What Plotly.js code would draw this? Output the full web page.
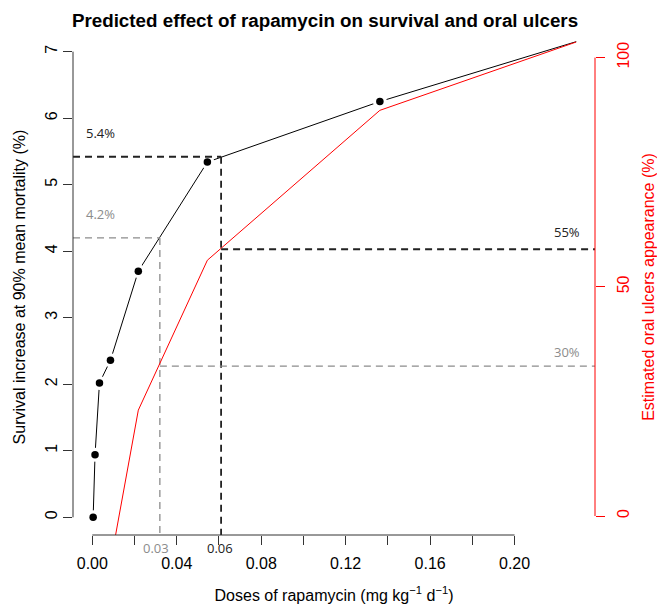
<!DOCTYPE html>
<html><head><meta charset="utf-8">
<script src="https://cdn.plot.ly/plotly-3.0.1.min.js"></script>
<style>html,body{margin:0;padding:0;background:#fff}</style>
</head><body><div id="chart" style="width:657px;height:606px"></div>
<script>
// ---- data ----
const doses = [0.0004, 0.0013, 0.0034, 0.0086, 0.0218, 0.0545, 0.1362, 0.2292];
const survivalIncrease = [0.0, 0.94, 2.02, 2.36, 3.70, 5.34, 6.25, 7.15];
const observedDoses = [0.0004, 0.0013, 0.0034, 0.0086, 0.0218, 0.0545, 0.1362];
const observedSurvival = [0.0, 0.94, 2.02, 2.36, 3.70, 5.34, 6.25];
const ulcerDoses = [0.0086, 0.0218, 0.0545, 0.1362, 0.2292];
const ulcerAppearance = [-10.3, 23.1, 55.8, 88.5, 103.4];
const refDoses = [0.032, 0.061];
const refSurvival = [4.2, 5.42];
const refUlcers = [32.7, 58.2];
const refSurvivalLabels = ['4.2%', '5.4%'];
const refUlcerLabels = ['30%', '55%'];
const refDoseLabels = ['0.03', '0.06'];
const xTickVals = [0, 0.04, 0.08, 0.12, 0.16, 0.20];
const xTickText = ['0.00', '0.04', '0.08', '0.12', '0.16', '0.20'];
const xMinorTickVals = [0.02, 0.06, 0.10, 0.14, 0.18];
const yTickVals = [0, 1, 2, 3, 4, 5, 6, 7];
const y2TickVals = [0, 50, 100];

// ---- styling / layout ----
const refColors = ['#8c8c8c', '#222222'];
const refWidths = [1.3, 1.8];
const xRange = [-0.00914, 0.2381];
const yRange = [-0.266, 7.19];
const y2Range = [-4.14, 104.06];
const sans = 'Liberation Sans, Arial, Helvetica, sans-serif';
const labFont = 'Open Sans, Noto Sans, sans-serif';

const traces = [
  {x: doses, y: survivalIncrease, mode: 'lines', line: {color: '#000', width: 1}, hoverinfo: 'skip', showlegend: false},
  {x: observedDoses, y: observedSurvival, mode: 'markers', marker: {color: '#fff', size: 14}, hoverinfo: 'skip', showlegend: false},
  {x: observedDoses, y: observedSurvival, mode: 'markers', marker: {color: '#000', size: 7.5}, showlegend: false},
  {x: ulcerDoses, y: ulcerAppearance, yaxis: 'y2', mode: 'lines', line: {color: '#ff0000', width: 1}, showlegend: false}
];
refDoses.forEach((d, i) => {
  const ln = {color: refColors[i], width: refWidths[i], dash: '7px,5px'};
  traces.push({x: [xRange[0], d], y: [refSurvival[i], refSurvival[i]], mode: 'lines', line: ln, hoverinfo: 'skip', showlegend: false});
  traces.push({x: [d, d], y: [refSurvival[i], yRange[0]], mode: 'lines', line: ln, hoverinfo: 'skip', showlegend: false});
  traces.push({x: [d, xRange[1]], y: [refUlcers[i], refUlcers[i]], yaxis: 'y2', mode: 'lines', line: ln, hoverinfo: 'skip', showlegend: false});
});

const annotations = [];
const ulcerShift = [14, 17];
const doseShift = [-3.5, -1.4];
refDoses.forEach((d, i) => {
  annotations.push({xref: 'x', yref: 'y', x: xRange[0], y: refSurvival[i], xanchor: 'left', yanchor: 'middle', xshift: 11, yshift: 24,
    text: refSurvivalLabels[i], showarrow: false, font: {family: labFont, size: 13, color: refColors[i]}});
  annotations.push({xref: 'x', yref: 'y2', x: xRange[1], y: refUlcers[i], xanchor: 'right', yanchor: 'middle', xshift: -13, yshift: ulcerShift[i],
    text: refUlcerLabels[i], showarrow: false, font: {family: labFont, size: 13, color: refColors[i]}});
  annotations.push({xref: 'x', yref: 'paper', x: d, y: 0, xanchor: 'center', yanchor: 'middle', xshift: doseShift[i], yshift: -13,
    text: refDoseLabels[i], showarrow: false, font: {family: labFont, size: 13, color: refColors[i]}});
});

const shapes = [
  {type: 'line', xref: 'paper', yref: 'y', x0: 0, x1: 0, y0: yTickVals[0], y1: yTickVals[yTickVals.length - 1], line: {color: '#333', width: 1}},
  {type: 'line', xref: 'x', yref: 'paper', x0: xTickVals[0], x1: xTickVals[xTickVals.length - 1], y0: 0, y1: 0, line: {color: '#333', width: 1}},
  {type: 'line', xref: 'paper', yref: 'y2', x0: 1, x1: 1, y0: y2TickVals[0], y1: y2TickVals[y2TickVals.length - 1], line: {color: '#ff0000', width: 1}}
];

const layout = {
  width: 657, height: 606,
  margin: {l: 73.3, r: 61.7, t: 39, b: 71, pad: 0},
  paper_bgcolor: '#fff', plot_bgcolor: '#fff',
  font: {family: sans, size: 16, color: '#000'},
  title: {text: 'Predicted effect of rapamycin on survival and oral ulcers', x: 325 / 657, xref: 'container', xanchor: 'center',
    y: 1 - 20 / 606, yref: 'container', yanchor: 'middle', font: {family: sans, size: 18.8, weight: 'bold', color: '#000'}},
  xaxis: {range: xRange, tickmode: 'array', tickvals: xTickVals, ticktext: xTickText, ticks: 'outside', ticklen: 9, tickwidth: 1,
    tickcolor: '#333', showline: false, showgrid: false, zeroline: false, ticklabelstandoff: 5,
    minor: {tickmode: 'array', tickvals: xMinorTickVals, ticks: 'outside', ticklen: 9, tickwidth: 1, tickcolor: '#333', showgrid: false},
    tickfont: {family: sans, size: 16, color: '#000'},
    title: {text: 'Doses of rapamycin (mg kg<sup>−1</sup> d<sup>−1</sup>)', font: {family: sans, size: 16, color: '#000'}, standoff: 18}},
  yaxis: {range: yRange, tickmode: 'array', tickvals: yTickVals, ticks: 'outside', ticklen: 9, tickwidth: 1, tickcolor: '#333',
    showline: false, showgrid: false, zeroline: false, tickangle: -90, ticklabelstandoff: 0,
    tickfont: {family: sans, size: 16, color: '#000'},
    title: {text: 'Survival increase at 90% mean mortality (%)', font: {family: sans, size: 16, color: '#000'}, standoff: 12}},
  yaxis2: {range: y2Range, overlaying: 'y', side: 'right', tickmode: 'array', tickvals: y2TickVals, ticks: 'outside', ticklen: 9,
    tickwidth: 1, tickcolor: '#ff0000', showline: false, showgrid: false, zeroline: false, tickangle: -90, ticklabelstandoff: 5,
    tickfont: {family: sans, size: 16, color: '#ff0000'},
    title: {text: 'Estimated oral ulcers appearance (%)', font: {family: sans, size: 16, color: '#ff0000'}, standoff: 11}},
  shapes: shapes,
  annotations: annotations,
  showlegend: false
};

Plotly.newPlot('chart', traces, layout, {staticPlot: true, displayModeBar: false});
</script></body></html>
